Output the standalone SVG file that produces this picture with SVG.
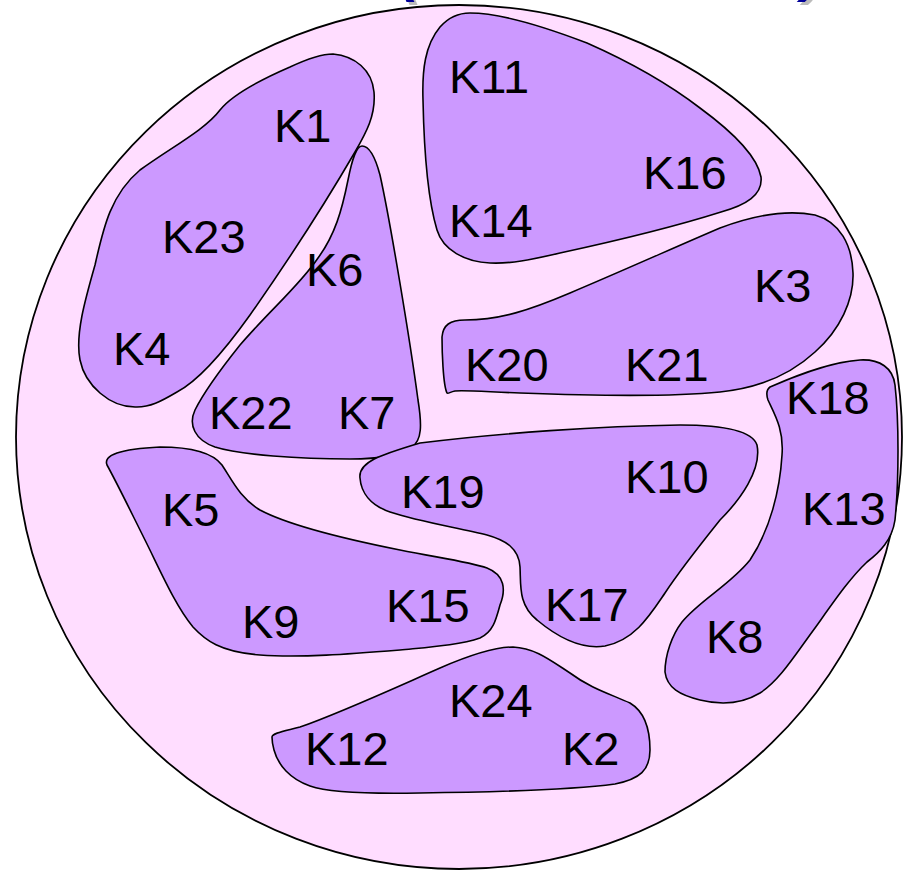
<svg xmlns="http://www.w3.org/2000/svg" width="909" height="871" viewBox="0 0 909 871">
<defs>
<filter id="shadow" x="-50%" y="-50%" width="200%" height="200%">
<feOffset in="SourceAlpha" dx="3" dy="3" result="off"/>
<feFlood flood-color="#BBBBBB"/>
<feComposite in2="off" operator="in" result="sh"/>
<feMerge><feMergeNode in="sh"/><feMergeNode in="SourceGraphic"/></feMerge>
</filter>
</defs>
<style>
.bg{fill:#FFDDFF;stroke:#000;stroke-width:1.8}
.blob{fill:#CC99FF;stroke:#000;stroke-width:1.6}
.lbl{font-family:"Liberation Sans",Arial,sans-serif;font-size:47px;fill:#000}
.ttl{font-family:"Liberation Sans",Arial,sans-serif;font-size:60px;font-weight:bold;font-style:italic;fill:#000099}
</style>
<rect width="909" height="871" fill="#FFFFFF"/>
<g id="title" filter="url(#shadow)">
<text class="ttl" x="400" y="-10">(</text>
<text class="ttl" x="802" y="-10">)</text>
</g>
<g id="universe">
<ellipse class="bg" cx="459" cy="437" rx="443" ry="432"/>
</g>
<g id="cluster-K1-K23-K4">
<path class="blob" d="M333,54 C355,56 372,70 374,92 C376,115 366,133 355,152 C330,195 290,258 250,315 C225,350 200,380 177,392 C160,402 150,407 137,407 C110,408 85,385 80,360 C75,335 85,300 95,265 C103,230 110,195 140,170 C170,148 205,130 220,110 C232,95 260,80 290,67 C305,60 320,54 333,54 Z"/>
<text class="lbl" x="274" y="142">K1</text>
<text class="lbl" x="162" y="253">K23</text>
<text class="lbl" x="113" y="365">K4</text>
</g>
<g id="cluster-K6-K22-K7">
<path class="blob" d="M362,146 C370,146 376,160 380,175 C390,220 410,340 418,400 C422,425 422,440 412,447 C400,456 380,459 350,459 C300,459 240,455 215,447 C195,440 188,425 195,410 C205,390 220,370 240,345 C270,310 300,285 318,258 C335,235 342,210 348,180 C352,160 356,146 362,146 Z"/>
<text class="lbl" x="306" y="286">K6</text>
<text class="lbl" x="209" y="429">K22</text>
<text class="lbl" x="338" y="429">K7</text>
</g>
<g id="cluster-K11-K16-K14">
<path class="blob" d="M470,13 C500,13 540,25 587,43 C630,62 670,85 700,108 C730,130 757,155 761,177 C763,195 746,205 721,212 C680,225 620,240 560,253 C530,260 510,264 490,263 C465,262 443,250 437,230 C428,200 424,150 423,100 C422,70 425,45 440,27 C448,18 458,13 470,13 Z"/>
<text class="lbl" x="449" y="93">K11</text>
<text class="lbl" x="643" y="189">K16</text>
<text class="lbl" x="449" y="237">K14</text>
</g>
<g id="cluster-K3-K20-K21">
<path class="blob" d="M447,393 C443,385 442,350 442,337 C443,325 450,320 465,320 C500,320 530,310 570,293 C620,272 680,245 720,228 C760,213 790,210 815,215 C840,222 852,245 853,273 C854,300 840,330 815,352 C790,375 760,388 720,392 C680,396 600,396 520,393 C490,392 465,390 455,391 C450,392 448,394 447,393 Z"/>
<text class="lbl" x="754" y="302">K3</text>
<text class="lbl" x="465" y="381">K20</text>
<text class="lbl" x="625" y="381">K21</text>
</g>
<g id="cluster-K18-K13-K8">
<path class="blob" d="M770,387 C790,378 830,362 860,360 C880,359 893,368 895,385 C899,420 899,480 895,520 C892,540 880,552 867,562 C850,578 835,600 815,628 C795,655 780,680 760,693 C740,705 720,705 700,700 C680,695 667,688 665,672 C665,655 672,635 682,622 C700,600 730,585 750,560 C770,530 780,490 782,455 C784,430 775,415 768,400 C766,394 766,390 770,387 Z"/>
<text class="lbl" x="786" y="414">K18</text>
<text class="lbl" x="802" y="525">K13</text>
<text class="lbl" x="706" y="653">K8</text>
</g>
<g id="cluster-K19-K10-K17">
<path class="blob" d="M360,478 C358,462 380,455 420,443 C500,433 600,426 680,425 C720,425 752,430 757,445 C762,470 740,500 720,520 C700,545 680,570 665,593 C650,615 635,640 605,646 C580,650 555,635 537,620 C518,605 521,585 520,567 C519,548 505,540 487,535 C460,528 420,522 390,512 C370,505 361,492 360,478 Z"/>
<text class="lbl" x="401" y="508">K19</text>
<text class="lbl" x="625" y="493">K10</text>
<text class="lbl" x="545" y="621">K17</text>
</g>
<g id="cluster-K5-K9-K15">
<path class="blob" d="M107,465 C103,455 120,449 160,447 C190,447 212,452 222,465 C232,480 240,498 260,510 C290,526 350,540 400,550 C440,558 470,562 487,568 C505,575 506,590 500,605 C496,620 493,632 480,638 C460,645 430,647 400,650 C350,654 300,658 260,655 C220,652 205,640 193,627 C175,605 160,570 145,540 C130,510 118,485 107,465 Z"/>
<text class="lbl" x="162" y="526">K5</text>
<text class="lbl" x="242" y="638">K9</text>
<text class="lbl" x="386" y="622">K15</text>
</g>
<g id="cluster-K24-K12-K2">
<path class="blob" d="M272,737 C272,733 285,731 300,727 C340,713 390,690 440,668 C470,655 495,647 513,647 C535,648 550,660 570,673 C590,688 610,694 630,703 C645,712 650,730 650,750 C650,770 640,779 615,784 C570,790 500,792 420,793 C370,794 330,793 310,786 C290,779 278,765 274,750 C272,743 272,740 272,737 Z"/>
<text class="lbl" x="449" y="717">K24</text>
<text class="lbl" x="562" y="765">K2</text>
<text class="lbl" x="305" y="765">K12</text>
</g>
</svg>
